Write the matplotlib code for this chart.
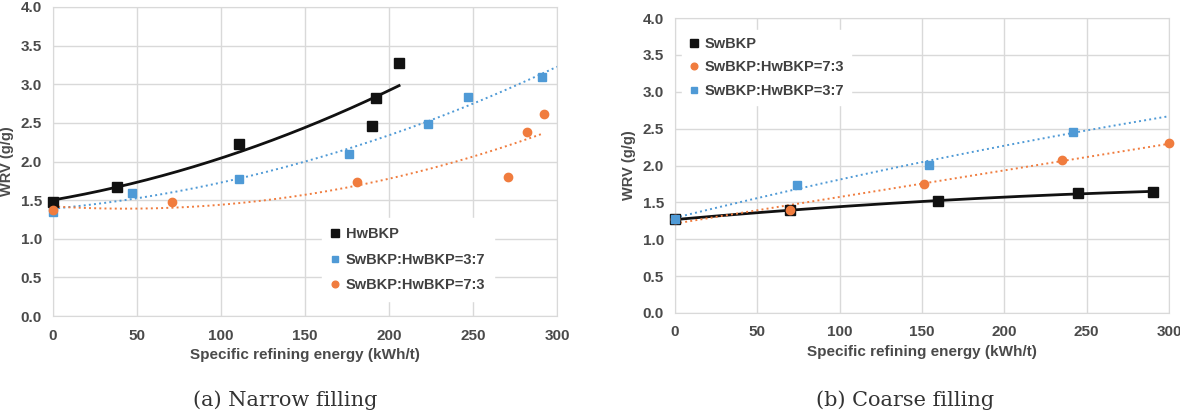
import matplotlib.pyplot as plt
import numpy as np

# (a) Narrow filling
a_hw_x = [0, 38, 111, 190, 192, 206]
a_hw_y = [1.48, 1.67, 2.23, 2.46, 2.82, 3.27]
a_37_x = [0, 47, 111, 176, 223, 247, 291]
a_37_y = [1.35, 1.59, 1.77, 2.10, 2.49, 2.83, 3.10]
a_73_x = [0, 71, 181, 271, 282, 292]
a_73_y = [1.37, 1.48, 1.73, 1.80, 2.38, 2.61]

# (b) Coarse filling
b_sw_x = [0, 70, 160, 245, 290]
b_sw_y = [1.27, 1.39, 1.52, 1.63, 1.64]
b_73_x = [0, 70, 151, 235, 300]
b_73_y = [1.27, 1.39, 1.75, 2.08, 2.30]
b_37_x = [0, 74, 154, 242]
b_37_y = [1.27, 1.74, 2.01, 2.46]

BLACK = '#111111'
BLUE = '#4f9ad6'
ORANGE = '#f07c3e'
GRID = '#d9d9d9'
TXT = '#4a4a4a'

plt.rcParams['font.family'] = ['Liberation Sans', 'DejaVu Sans']

fig = plt.figure(figsize=(11.8, 4.12), dpi=100)
ax1 = fig.add_axes([53 / 1180, 1 - 316 / 412, 504 / 1180, 309 / 412])
ax2 = fig.add_axes([675 / 1180, 1 - 313 / 412, 494 / 1180, 295 / 412])


def trend(ax, x, y, deg, x_end, color, ls, lw):
    c = np.polyfit(x, y, deg)
    xx = np.linspace(0, x_end, 200)
    ax.plot(xx, np.polyval(c, xx), color=color, linestyle=ls, linewidth=lw,
            zorder=2, clip_on=False)


def style(ax):
    ax.set_xlim(0, 300)
    ax.set_ylim(0, 4.0)
    ax.set_xticks(np.arange(0, 301, 50))
    ax.set_yticks(np.arange(0, 4.01, 0.5))
    ax.set_yticklabels([f'{v:.1f}' for v in np.arange(0, 4.01, 0.5)])
    ax.grid(True, color=GRID, linewidth=1.0)
    ax.set_axisbelow(True)
    for s in ax.spines.values():
        s.set_color(GRID)
    ax.tick_params(axis='x', length=0, labelsize=11, labelcolor=TXT, pad=9)
    ax.tick_params(axis='y', length=0, labelsize=11, labelcolor=TXT, pad=8)
    for lab in ax.get_xticklabels() + ax.get_yticklabels():
        lab.set_fontweight('bold')
    ax.set_xlabel('Specific refining energy (kWh/t)', fontsize=11,
                  fontweight='bold', color=TXT, labelpad=4)
    ax.set_ylabel('WRV (g/g)', fontsize=10.5, fontweight='bold', color=TXT,
                  labelpad=5)


# panel (a)
trend(ax1, a_hw_x, a_hw_y, 2, 206, BLACK, '-', 2.0)
trend(ax1, a_37_x, a_37_y, 2, 300, BLUE, ':', 1.4)
trend(ax1, a_73_x, a_73_y, 2, 292, ORANGE, ':', 1.4)
h1, = ax1.plot(a_hw_x, a_hw_y, 's', color=BLACK, ms=6.5, zorder=3, clip_on=False)
h2, = ax1.plot(a_37_x, a_37_y, 's', color=BLUE, ms=6, zorder=3, clip_on=False)
h3, = ax1.plot(a_73_x, a_73_y, 'o', color=ORANGE, ms=6, zorder=3, clip_on=False)
style(ax1)
leg1 = ax1.legend([h1, h2, h3], ['HwBKP', 'SwBKP:HwBKP=3:7', 'SwBKP:HwBKP=7:3'],
                  loc='upper left', bbox_to_anchor=(0.52, 0.34), frameon=True,
                  fancybox=False, edgecolor='white', framealpha=1.0,
                  prop={'size': 10.5, 'weight': 'bold'}, handlelength=0.6,
                  handletextpad=0.4, labelspacing=0.8, markerscale=0.8,
                  borderpad=0.6)
for t in leg1.get_texts():
    t.set_color('#404040')

# panel (b)
trend(ax2, b_sw_x, b_sw_y, 2, 290, BLACK, '-', 2.0)
trend(ax2, b_73_x, b_73_y, 1, 300, ORANGE, ':', 1.4)
trend(ax2, b_37_x, b_37_y, 2, 300, BLUE, ':', 1.4)
g1, = ax2.plot(b_sw_x, b_sw_y, 's', color=BLACK, ms=6.5, zorder=3, clip_on=False)
g2, = ax2.plot(b_73_x, b_73_y, 'o', color=ORANGE, ms=6, zorder=3, clip_on=False)
g3, = ax2.plot(b_37_x, b_37_y, 's', color=BLUE, ms=6, zorder=3, clip_on=False)
style(ax2)
leg2 = ax2.legend([g1, g2, g3], ['SwBKP', 'SwBKP:HwBKP=7:3', 'SwBKP:HwBKP=3:7'],
                  loc='upper left', bbox_to_anchor=(0.0, 0.985), frameon=True,
                  fancybox=False, edgecolor='white', framealpha=1.0,
                  prop={'size': 10.5, 'weight': 'bold'}, handlelength=0.6,
                  handletextpad=0.4, labelspacing=0.65, markerscale=0.8,
                  borderpad=0.5)
for t in leg2.get_texts():
    t.set_color('#404040')

# captions
fig.text(285 / 1180, 1 - 410 / 412, '(a) Narrow filling', ha='center', va='bottom',
         fontsize=15, family='DejaVu Serif', color='#333333')
fig.text(905 / 1180, 1 - 410 / 412, '(b) Coarse filling', ha='center', va='bottom',
         fontsize=15, family='DejaVu Serif', color='#333333')

fig.savefig('out.png', dpi=100)
